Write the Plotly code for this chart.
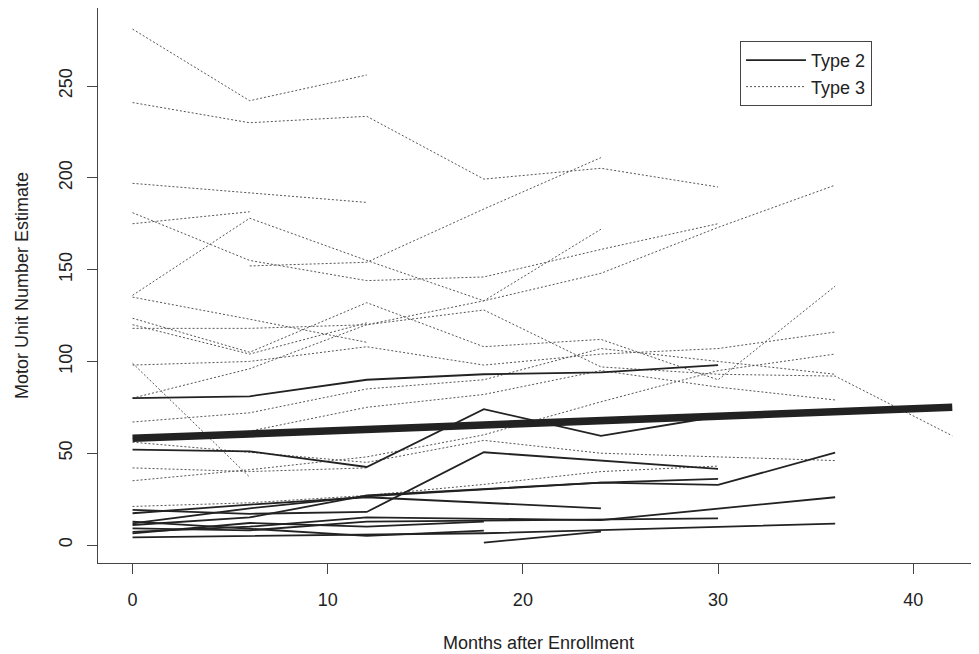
import plotly.graph_objects as go

# ---------------- data ----------------
# Type 3 subjects (dotted): months and MUNE values
t3_months = [
    [0, 6, 12],
    [0, 6, 12, 18, 24, 30],
    [0, 6, 12],
    [0, 6, 12, 18, 24, 30],
    [0, 6],
    [0, 6, 12, 18, 24],
    [6, 12, 18, 24],
    [0, 6, 12, 18, 24, 30, 36],
    [0, 6, 12],
    [0, 6, 12, 18, 24, 30, 36],
    [0, 6, 12],
    [0, 6, 12, 18, 24, 30, 36, 42],
    [0, 6, 12, 18, 24, 30, 36],
    [0, 6, 12, 18, 24, 30, 36],
    [0, 12, 18, 24, 30, 36],
    [0, 6, 12],
    [0, 6, 12, 18, 24, 30, 36],
    [0, 6, 12, 18, 24, 30],
    [0, 6],
    [0, 6, 12, 18, 24, 30, 36],
]
t3_values = [
    [281, 242, 256],
    [241, 230, 233.5, 199.3, 205.2, 195],
    [197, 192, 186.6],
    [181, 155, 144, 146, 161, 175],
    [175, 181.5],
    [136, 178, 155, 133, 172],
    [152, 154, 183, 211],
    [80, 96, 120, 133, 148, 173, 196],
    [135, 123, 110.4],
    [123.5, 105, 132, 108, 112, 90, 141],
    [120, 104, 121],
    [118, 118, 120, 128, 97, 93, 92, 59.5],
    [67, 72, 85, 90, 107, 100, 93],
    [58, 62, 75, 82, 95, 86, 79],
    [56, 45, 57, 50, 48, 46],
    [42, 40, 42],
    [35, 41, 48, 60, 78, 95, 104],
    [21, 23, 27, 33, 40, 43],
    [99, 37],
    [98, 100, 108, 98, 104, 107, 116],
]

# Type 2 subjects (solid)
t2_months = [
    [0, 6, 12, 18, 24, 30],
    [0, 6, 12, 18, 24, 30],
    [0, 6, 12, 18, 30],
    [0, 6, 12, 24, 30, 36],
    [0, 6, 12, 24, 30],
    [0, 6, 12, 24],
    [0, 6, 12, 24, 36],
    [0, 6, 12, 30],
    [0, 6, 12, 18],
    [0, 6, 12, 18, 36],
    [18, 24],
    [0, 6, 12, 18],
]
t2_values = [
    [80, 81, 90, 93, 94, 98],
    [52, 51, 42.5, 74, 59.5, 70],
    [19.1, 17, 18, 50.5, 41.5],
    [11.8, 20, 26.5, 34, 32.7, 50.3],
    [10.9, 15, 27, 34, 36],
    [17.3, 22, 26, 20],
    [7.2, 10, 15, 13.6, 26],
    [9.1, 8, 12.7, 14.5],
    [6.3, 12, 10, 12.7],
    [4.2, 5, 6, 6.4, 11.6],
    [1.3, 7.3],
    [12.7, 9, 5, 7.8],
]

# overall fitted trend (thick line)
trend_months = [0, 42]
trend_values = [58.1, 75.0]

# ---------------- figure ----------------
fig = go.Figure()

for i, (m, v) in enumerate(zip(t3_months, t3_values)):
    fig.add_trace(go.Scatter(
        x=m, y=v, mode="lines", name="Type 3", legendgroup="t3",
        showlegend=(i == 0), legendrank=2,
        line=dict(color="#555555", width=1, dash="2px,2px"),
        hoverinfo="skip"))

for i, (m, v) in enumerate(zip(t2_months, t2_values)):
    fig.add_trace(go.Scatter(
        x=m, y=v, mode="lines", name="Type 2", legendgroup="t2",
        showlegend=(i == 0), legendrank=1,
        line=dict(color="#222222", width=1.8),
        hoverinfo="skip"))

fig.add_trace(go.Scatter(
    x=trend_months, y=trend_values, mode="lines", showlegend=False,
    line=dict(color="#222222", width=7.5), hoverinfo="skip"))

FONT = "Liberation Sans, Arial, sans-serif"
axis_font = dict(family=FONT, size=18, color="#222222")

fig.update_layout(
    width=971, height=646,
    margin=dict(l=90, r=0, t=0, b=91),
    paper_bgcolor="white", plot_bgcolor="white",
    font=axis_font,
    xaxis=dict(
        range=[-1.77, 43.37], tickvals=[0, 10, 20, 30, 40],
        showgrid=False, zeroline=False, showline=True, linecolor="#444444", linewidth=1,
        ticks="outside", ticklen=10, tickcolor="#444444", ticklabelstandoff=10,
        automargin=False,
        title=dict(text="Months after Enrollment", standoff=27, font=axis_font),
    ),
    yaxis=dict(
        range=[-9.8, 292.5], tickvals=[0, 50, 100, 150, 200, 250],
        showgrid=False, zeroline=False, showline=True, linecolor="#444444", linewidth=1,
        ticks="outside", ticklen=10, tickcolor="#444444", tickangle=-90,
        ticklabelstandoff=8, automargin=False,
        title=dict(text="Motor Unit Number Estimate", standoff=22, font=axis_font),
    ),
    legend=dict(
        x=0.7287, y=0.9405, xanchor="left", yanchor="top",
        bordercolor="#444444", borderwidth=1, bgcolor="white",
        font=dict(family=FONT, size=18, color="#222222"),
        itemwidth=60, tracegroupgap=0,
    ),
)

fig.write_html("out.html")
